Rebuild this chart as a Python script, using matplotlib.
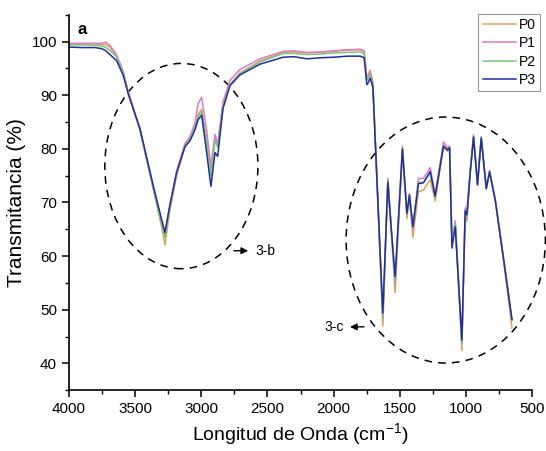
import matplotlib
matplotlib.use("Agg")
import matplotlib.pyplot as plt
from matplotlib.patches import Ellipse
from matplotlib.ticker import MultipleLocator

plt.rcParams['font.family'] = ['Liberation Sans', 'DejaVu Sans']

# wavenumber (cm-1) shared by all samples
wn = [4000, 3900, 3800, 3750, 3720, 3690, 3640, 3590, 3552, 3463, 3363, 3299,
      3274, 3237, 3186, 3123, 3085, 3048, 3023, 2997, 2959, 2927, 2896, 2876,
      2836, 2783, 2708, 2557, 2382, 2300, 2200, 2100, 2000, 1900, 1800, 1770,
      1750, 1740, 1725, 1704, 1629, 1591, 1565, 1536, 1481, 1447, 1428, 1402,
      1360, 1322, 1271, 1234, 1171, 1141, 1125, 1107, 1082, 1032, 1007, 994,
      969, 944, 914, 886, 848, 823, 780, 717, 654]

p0 = [99.6, 99.6, 99.6, 99.5, 99.4, 99.0, 97.4, 94.3, 90.6, 83.5, 72.5, 65.5,
      62.1, 68.5, 75.0, 80.5, 82.0, 84.0, 86.5, 87.4, 81.8, 75.5, 82.0, 80.5,
      88.0, 92.0, 94.2, 96.4, 98.0, 98.1, 97.9, 98.0, 98.2, 98.4, 98.5, 98.2,
      93.5, 93.8, 94.7, 92.5, 46.9, 73.8, 64.5, 53.2, 79.5, 67.0, 70.8, 63.5,
      72.0, 72.3, 74.3, 70.3, 80.3, 79.6, 80.0, 62.4, 66.0, 42.4, 68.2, 66.5,
      75.5, 82.2, 73.2, 82.0, 72.5, 75.6, 70.3, 59.0, 46.6]

p1 = [99.7, 99.7, 99.7, 99.7, 99.9, 99.3, 97.6, 94.5, 90.8, 83.8, 73.0, 66.5,
      64.2, 69.5, 75.8, 81.0, 82.3, 84.8, 88.5, 89.6, 83.5, 76.8, 82.7, 81.0,
      88.8, 92.8, 94.8, 96.8, 98.2, 98.3, 98.0, 98.1, 98.3, 98.5, 98.6, 98.3,
      93.2, 93.5, 94.4, 92.3, 48.5, 74.5, 65.2, 54.8, 80.5, 68.0, 71.6, 65.0,
      74.5, 74.5, 76.5, 71.5, 81.3, 80.2, 80.6, 62.8, 66.6, 44.0, 69.0, 68.5,
      76.2, 82.6, 73.6, 82.3, 72.9, 76.0, 70.6, 59.6, 48.0]

p2 = [99.4, 99.4, 99.3, 99.2, 98.9, 98.4, 97.2, 94.2, 90.5, 83.6, 72.8, 66.0,
      63.5, 69.0, 75.3, 80.6, 81.8, 84.0, 86.0, 87.0, 81.5, 75.0, 81.5, 80.3,
      87.8, 92.0, 94.0, 96.2, 97.8, 97.8, 97.6, 97.7, 97.9, 98.0, 98.1, 97.8,
      92.8, 93.2, 94.0, 92.0, 48.3, 74.2, 65.0, 55.3, 80.0, 67.8, 71.4, 65.5,
      73.8, 73.7, 75.5, 71.0, 80.6, 79.9, 80.3, 62.2, 66.2, 43.6, 68.6, 67.8,
      75.8, 82.3, 73.4, 82.1, 72.7, 75.8, 70.5, 59.4, 48.0]

p3 = [99.0, 98.9, 98.9, 98.7, 98.3, 97.6, 96.5, 93.8, 90.3, 83.8, 73.2, 66.8,
      64.4, 69.5, 75.6, 80.4, 81.5, 83.5, 85.5, 86.3, 79.3, 73.0, 79.3, 78.6,
      87.5, 91.8, 93.8, 95.8, 97.1, 97.2, 96.8, 97.0, 97.1, 97.3, 97.3, 97.0,
      92.0, 92.3, 93.2, 91.5, 49.4, 73.8, 65.0, 56.2, 80.0, 68.0, 71.4, 65.5,
      73.5, 73.7, 75.8, 71.2, 80.5, 79.8, 80.2, 61.5, 65.5, 44.3, 68.4, 67.7,
      75.6, 82.2, 73.3, 82.0, 72.6, 75.7, 70.4, 59.4, 48.2]

labels = ['P0', 'P1', 'P2', 'P3']
colors = ['#dba25e', '#e27ac6', '#7cc47c', '#1f2fa0']

fig = plt.figure(figsize=(5.46, 4.51), dpi=100)
ax = fig.add_axes([0.126, 0.135, 0.849, 0.832])

for y, lab, c in zip([p0, p1, p2, p3], labels, colors):
    ax.plot(wn, y, color=c, lw=1.1, label=lab)

ax.set_xlim(4000, 500)
ax.set_ylim(35, 105)
ax.xaxis.set_major_locator(MultipleLocator(500))
ax.xaxis.set_minor_locator(MultipleLocator(250))
ax.yaxis.set_minor_locator(MultipleLocator(5))
ax.set_yticks([40, 50, 60, 70, 80, 90, 100])
ax.tick_params(which='major', direction='out', length=5, width=1.1, labelsize=11)
ax.tick_params(which='minor', direction='out', length=3, width=1.0)
ax.spines['top'].set_visible(False)
ax.spines['right'].set_visible(False)
ax.spines['left'].set_linewidth(1.2)
ax.spines['bottom'].set_linewidth(1.2)

ax.set_xlabel('Longitud de Onda (cm$^{\\mathregular{-1}}$)', fontsize=14, labelpad=4)
ax.set_ylabel('Transmitancia (%)', fontsize=15, labelpad=4)

ax.text(0.018, 0.98, 'a', transform=ax.transAxes, fontsize=12,
        fontweight='bold', va='top', ha='left')

# dashed regions discussed in Fig. 3-b and 3-c
ax.add_patch(Ellipse((3150, 76.8), 1156, 38.3, fill=False, ls=(0, (5, 4)),
                     lw=1.1, color='black', clip_on=False))
ax.add_patch(Ellipse((1154, 63.0), 1504, 45.9, fill=False, ls=(0, (5, 4)),
                     lw=1.1, color='black', clip_on=False))

ax.annotate('', xy=(2625, 61.0), xytext=(2775, 61.0),
            arrowprops=dict(arrowstyle='-|>', color='black', lw=1.0,
                            mutation_scale=10))
ax.text(2594, 61.0, '3-b', fontsize=10, va='center', ha='left')
ax.annotate('', xy=(1898, 46.8), xytext=(1750, 46.8),
            arrowprops=dict(arrowstyle='-|>', color='black', lw=1.0,
                            mutation_scale=10))
ax.text(1921, 46.8, '3-c', fontsize=10, va='center', ha='right')

leg = ax.legend(loc='upper right', bbox_to_anchor=(540 / 546, 1 - 14 / 451),
                bbox_transform=fig.transFigure, fontsize=10, frameon=True,
                fancybox=False, edgecolor='#808080', handlelength=2.4,
                handletextpad=0.2, labelspacing=0.3, borderpad=0.3,
                borderaxespad=0)
leg.get_frame().set_linewidth(0.8)

fig.savefig('out.png', dpi=100)
